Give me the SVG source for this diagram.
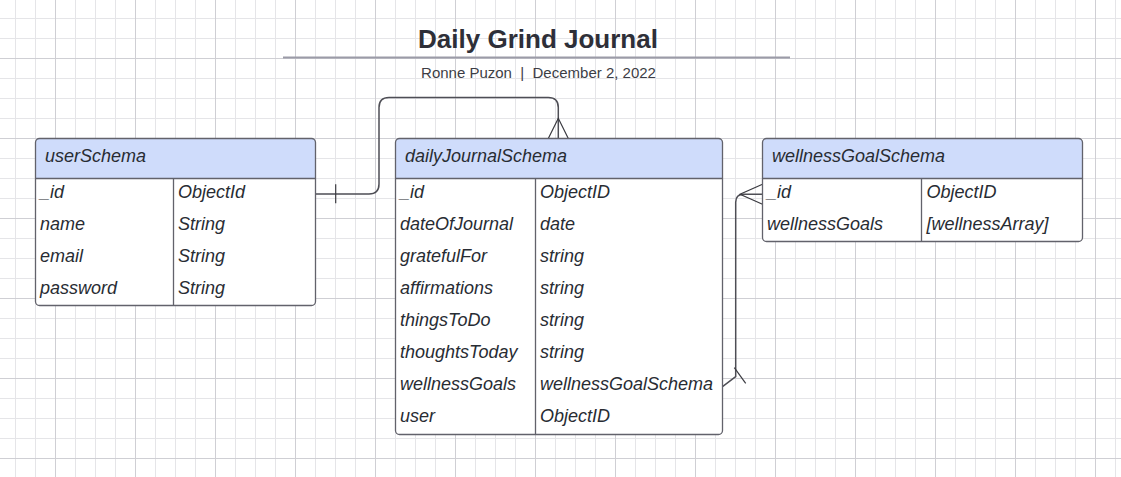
<svg xmlns="http://www.w3.org/2000/svg" width="1121" height="477" viewBox="0 0 1121 477">
  <style>
    .t{font-family:"Liberation Sans",Arial,sans-serif;font-style:italic;font-size:18px;fill:#282c33}
    .hd{fill:#cfdcfb}
    .box{fill:none;stroke:#62626b;stroke-width:1.3}
    .div{stroke:#62626b;stroke-width:1.3}
    .conn{fill:none;stroke:#4e4e55;stroke-width:1.5}
    .mark{fill:none;stroke:#3a3a40;stroke-width:1.2}
  </style>
  <defs>
    <pattern id="minor" patternUnits="userSpaceOnUse" x="15" y="18" width="20" height="20">
      <path d="M0.5 0V20M0 0.5H20" stroke="#e5e5e8" stroke-width="1" fill="none"/>
    </pattern>
    <pattern id="major" patternUnits="userSpaceOnUse" x="55" y="58" width="80" height="80">
      <path d="M0.5 0V80M0 0.5H80" stroke="#cfcfd4" stroke-width="1" fill="none"/>
    </pattern>
  </defs>
  <rect width="1121" height="477" fill="#ffffff"/>
  <rect width="1121" height="477" fill="url(#minor)"/>
  <rect width="1121" height="477" fill="url(#major)"/>

  <g id="title">
    <text x="538" y="48" text-anchor="middle" font-family="'Liberation Sans',Arial,sans-serif" font-weight="bold" font-size="26" fill="#2e2f38">Daily Grind Journal</text>
    <line x1="283" y1="57.5" x2="790" y2="57.5" stroke="#9b9ba7" stroke-width="2"/>
    <text x="538.5" y="78" text-anchor="middle" font-family="'Liberation Sans',Arial,sans-serif" font-size="15" fill="#3c3d45">Ronne Puzon &#160;|&#160; December 2, 2022</text>
  </g>

  <g id="connectors">
    <path class="conn" d="M315.5 194H369Q379 194 379 184V107.5Q379 97.5 389 97.5H548.3Q558.3 97.5 558.3 107.5V138.5"/>
    <path class="mark" d="M335.7 184.3V203.3"/>
    <path class="mark" d="M548.3 138.5L558.3 118.3L568.3 138.5"/>
    <path class="conn" d="M722.5 386.7L735.7 376.7V202.3Q735.7 194.3 743.7 194.3H762.5"/>
    <path class="mark" d="M734.3 367.7L745.7 383.3"/>
    <path class="mark" d="M762.5 184.3L740 194.3L762.5 204.3"/>
  </g>

  <g id="userSchema">
    <rect x="35.5" y="138.5" width="280" height="167" rx="4" fill="#ffffff"/>
    <path class="hd" d="M35.5 178.5V142.5Q35.5 138.5 39.5 138.5H311.5Q315.5 138.5 315.5 142.5V178.5Z"/>
    <line class="div" x1="35.5" y1="178.5" x2="315.5" y2="178.5"/>
    <line class="div" x1="173.5" y1="178.5" x2="173.5" y2="305.5"/>
    <rect class="box" x="35.5" y="138.5" width="280" height="167" rx="4"/>
    <text class="t" x="45" y="162">userSchema</text>
    <text class="t" x="40" y="197.5">_id</text><text class="t" x="178" y="197.5">ObjectId</text>
    <text class="t" x="40" y="229.5">name</text><text class="t" x="178" y="229.5">String</text>
    <text class="t" x="40" y="261.5">email</text><text class="t" x="178" y="261.5">String</text>
    <text class="t" x="40" y="293.5">password</text><text class="t" x="178" y="293.5">String</text>
  </g>

  <g id="dailyJournalSchema">
    <rect x="395.5" y="138.5" width="327" height="296" rx="4" fill="#ffffff"/>
    <path class="hd" d="M395.5 178.5V142.5Q395.5 138.5 399.5 138.5H718.5Q722.5 138.5 722.5 142.5V178.5Z"/>
    <line class="div" x1="395.5" y1="178.5" x2="722.5" y2="178.5"/>
    <line class="div" x1="535.5" y1="178.5" x2="535.5" y2="434.5"/>
    <rect class="box" x="395.5" y="138.5" width="327" height="296" rx="4"/>
    <text class="t" x="405" y="162">dailyJournalSchema</text>
    <text class="t" x="400" y="197.5">_id</text><text class="t" x="540" y="197.5">ObjectID</text>
    <text class="t" x="400" y="229.5">dateOfJournal</text><text class="t" x="540" y="229.5">date</text>
    <text class="t" x="400" y="261.5">gratefulFor</text><text class="t" x="540" y="261.5">string</text>
    <text class="t" x="400" y="293.5">affirmations</text><text class="t" x="540" y="293.5">string</text>
    <text class="t" x="400" y="325.5">thingsToDo</text><text class="t" x="540" y="325.5">string</text>
    <text class="t" x="400" y="357.5">thoughtsToday</text><text class="t" x="540" y="357.5">string</text>
    <text class="t" x="400" y="389.5">wellnessGoals</text><text class="t" x="540" y="389.5">wellnessGoalSchema</text>
    <text class="t" x="400" y="421.5">user</text><text class="t" x="540" y="421.5">ObjectID</text>
  </g>

  <g id="wellnessGoalSchema">
    <rect x="762.5" y="138.5" width="320" height="103" rx="4" fill="#ffffff"/>
    <path class="hd" d="M762.5 178.5V142.5Q762.5 138.5 766.5 138.5H1078.5Q1082.5 138.5 1082.5 142.5V178.5Z"/>
    <line class="div" x1="762.5" y1="178.5" x2="1082.5" y2="178.5"/>
    <line class="div" x1="921.5" y1="178.5" x2="921.5" y2="241.5"/>
    <rect class="box" x="762.5" y="138.5" width="320" height="103" rx="4"/>
    <text class="t" x="772" y="162">wellnessGoalSchema</text>
    <text class="t" x="767" y="197.5">_id</text><text class="t" x="926.5" y="197.5">ObjectID</text>
    <text class="t" x="767" y="229.5">wellnessGoals</text><text class="t" x="926.5" y="229.5">[wellnessArray]</text>
  </g>
</svg>
